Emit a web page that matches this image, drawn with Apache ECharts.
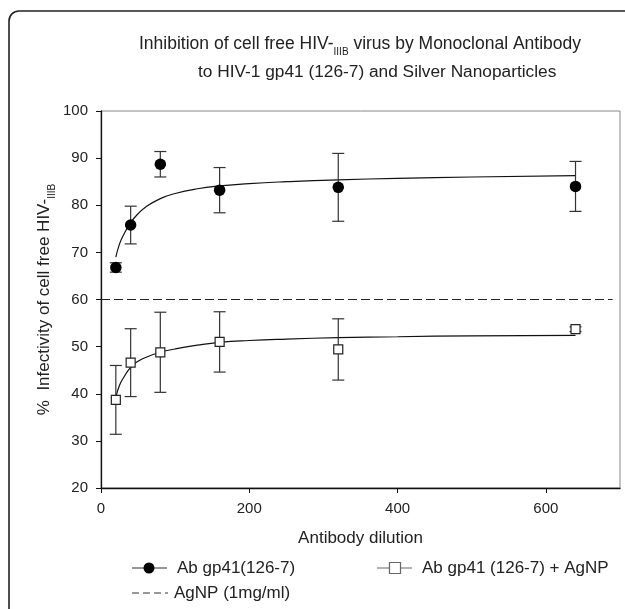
<!DOCTYPE html>
<html>
<head>
<meta charset="utf-8">
<script src="https://cdn.jsdelivr.net/npm/echarts@6/dist/echarts.min.js"></script>
<style>html,body{margin:0;padding:0;background:#fff;}#c{width:625px;height:609px;}</style>
</head>
<body>
<div id="c"></div>
<script>
// ---- data ----
const dilutions = [20, 40, 80, 160, 320, 640];
const abMean = [66.8, 75.8, 88.7, 83.2, 83.8, 84.0];
const abErr = [1.0, 4.0, 2.7, 4.8, 7.2, 5.3];
const agMean = [38.7, 46.6, 48.8, 51.0, 49.4, 53.7];
const agErr = [7.3, 7.2, 8.5, 6.4, 6.5, 0.5];
const fitX = [20, 25, 30, 40, 50, 60, 80, 100, 130, 160, 200, 250, 320, 400, 500, 640];
const abFit = [69.0, 71.8, 73.6, 76.3, 78.2, 79.6, 81.4, 82.5, 83.5, 84.1, 84.6, 85.0, 85.4, 85.7, 86.0, 86.3];
const agFit = [39.3, 41.8, 43.3, 45.6, 46.9, 47.7, 48.8, 49.5, 50.3, 50.9, 51.3, 51.6, 51.9, 52.1, 52.3, 52.4];
const agnpLevel = 60;
const agnpX = [0, 690];
const xTicks = [0, 200, 400, 600];

const FONT = 'Liberation Sans, Arial, sans-serif';
const TXT = '#222';
const FS = 17;

function pairs(xs, ys) { return xs.map((x, i) => [x, ys[i]]); }
function errData(xs, m, e) { return xs.map((x, i) => [x, m[i] - e[i], m[i] + e[i]]); }

function errRender(params, api) {
  const x = api.value(0);
  const lo = api.coord([x, api.value(1)]);
  const hi = api.coord([x, api.value(2)]);
  const w = 6;
  const st = { stroke: '#333', lineWidth: 1.2 };
  return {
    type: 'group',
    children: [
      { type: 'line', shape: { x1: lo[0], y1: lo[1], x2: hi[0], y2: hi[1] }, style: st },
      { type: 'line', shape: { x1: lo[0] - w, y1: lo[1], x2: lo[0] + w, y2: lo[1] }, style: st },
      { type: 'line', shape: { x1: hi[0] - w, y1: hi[1], x2: hi[0] + w, y2: hi[1] }, style: st }
    ]
  };
}

const chart = echarts.init(document.getElementById('c'), null, { renderer: 'canvas' });

const subRich = {
  a: { fontSize: FS, fontFamily: FONT, color: TXT, fontWeight: 'normal' },
  s: { fontSize: 10, fontFamily: FONT, color: TXT, fontWeight: 'normal', verticalAlign: 'bottom', padding: [0, 0, -4, 0] }
};
const titleRich = {
  a: { fontSize: 17.5, fontFamily: FONT, color: TXT, fontWeight: 'normal' },
  s: { fontSize: 10, fontFamily: FONT, color: TXT, fontWeight: 'normal', verticalAlign: 'bottom', padding: [0, 0, -4, 0] }
};

chart.setOption({
  animation: false,
  backgroundColor: '#fff',
  title: [
    {
      text: '{a|Inhibition of cell free HIV-}{s|IIIB}{a| virus by Monoclonal Antibody}',
      left: 134, top: 30,
      textStyle: { fontWeight: 'normal', rich: titleRich }
    },
    {
      text: 'to HIV-1 gp41 (126-7) and Silver Nanoparticles',
      left: 193, top: 59,
      textStyle: { fontSize: 17.3, fontFamily: FONT, color: TXT, fontWeight: 'normal' }
    }
  ],
  grid: { left: 101, top: 111, right: 5, bottom: 121, show: true, borderColor: '#888', borderWidth: 1 },
  xAxis: {
    type: 'value', min: 0, max: 700,
    name: 'Antibody dilution', nameLocation: 'middle', nameGap: 42, nameMoveOverlap: false,
    nameTextStyle: { fontSize: FS, fontFamily: FONT, color: TXT },
    axisLine: { show: true, lineStyle: { color: '#111', width: 1.3 } },
    axisTick: { show: true, length: 5, customValues: xTicks, lineStyle: { color: '#111' } },
    axisLabel: { customValues: xTicks, fontSize: 15, fontFamily: FONT, color: TXT, margin: 13 },
    splitLine: { show: false }
  },
  yAxis: {
    type: 'value', min: 20, max: 100, interval: 10,
    name: '{a|%  Infectivity of cell free HIV-}{s|IIIB}', nameLocation: 'middle', nameGap: 48, nameMoveOverlap: false,
    nameTextStyle: { fontWeight: 'normal', rich: subRich },
    axisLine: { show: true, lineStyle: { color: '#111', width: 1.3 } },
    axisTick: { show: true, length: 5, lineStyle: { color: '#111' } },
    axisLabel: { fontSize: 15, fontFamily: FONT, color: TXT, margin: 13 },
    splitLine: { show: false }
  },
  series: [
    {
      name: 'AgNP (1mg/ml)', type: 'line', data: pairs(agnpX, [agnpLevel, agnpLevel]),
      symbol: 'none', lineStyle: { color: '#222', width: 1.2, type: [9, 4] }, z: 1
    },
    {
      name: 'abFit', type: 'line', data: pairs(fitX, abFit), smooth: true,
      symbol: 'none', lineStyle: { color: '#111', width: 1.2 }, z: 2
    },
    {
      name: 'agFit', type: 'line', data: pairs(fitX, agFit), smooth: true,
      symbol: 'none', lineStyle: { color: '#111', width: 1.2 }, z: 2
    },
    {
      name: 'abErr', type: 'custom', renderItem: errRender, data: errData(dilutions, abMean, abErr), z: 3,
      encode: { x: 0, y: [1, 2] }
    },
    {
      name: 'agErr', type: 'custom', renderItem: errRender, data: errData(dilutions, agMean, agErr), z: 3,
      encode: { x: 0, y: [1, 2] }
    },
    {
      name: 'Ab gp41(126-7)', type: 'scatter', data: pairs(dilutions, abMean),
      symbol: 'circle', symbolSize: 11.5, itemStyle: { color: '#000', opacity: 1 }, z: 4
    },
    {
      name: 'Ab gp41 (126-7) + AgNP', type: 'scatter', data: pairs(dilutions, agMean),
      symbol: 'rect', symbolSize: 9, itemStyle: { color: '#fff', borderColor: '#222', borderWidth: 1.2, opacity: 1 }, z: 4
    }
  ],
  graphic: [
    { type: 'rect', shape: { x: 9, y: 11, width: 1000, height: 1000, r: 10 }, style: { fill: 'none', stroke: '#222', lineWidth: 1.6 }, silent: true, z: -1 },
    // legend item 1
    { type: 'line', shape: { x1: 132, y1: 568, x2: 167, y2: 568 }, style: { stroke: '#333', lineWidth: 1.2 } },
    { type: 'circle', shape: { cx: 149, cy: 568, r: 5.5 }, style: { fill: '#000' } },
    { type: 'text', x: 177, y: 568, style: { text: 'Ab gp41(126-7)', fontSize: FS, fontFamily: FONT, fill: TXT, verticalAlign: 'middle' } },
    // legend item 2
    { type: 'line', shape: { x1: 377, y1: 568, x2: 412, y2: 568 }, style: { stroke: '#666', lineWidth: 1.2 } },
    { type: 'rect', shape: { x: 389.5, y: 562.5, width: 11, height: 11 }, style: { fill: '#fff', stroke: '#666', lineWidth: 1.2 } },
    { type: 'text', x: 422, y: 568, style: { text: 'Ab gp41 (126-7) + AgNP', fontSize: FS, fontFamily: FONT, fill: TXT, verticalAlign: 'middle' } },
    // legend item 3
    { type: 'line', shape: { x1: 132, y1: 593, x2: 168, y2: 593 }, style: { stroke: '#333', lineWidth: 1.2, lineDash: [7, 4] } },
    { type: 'text', x: 174, y: 593, style: { text: 'AgNP (1mg/ml)', fontSize: FS, fontFamily: FONT, fill: TXT, verticalAlign: 'middle' } }
  ]
});
</script>
</body>
</html>
